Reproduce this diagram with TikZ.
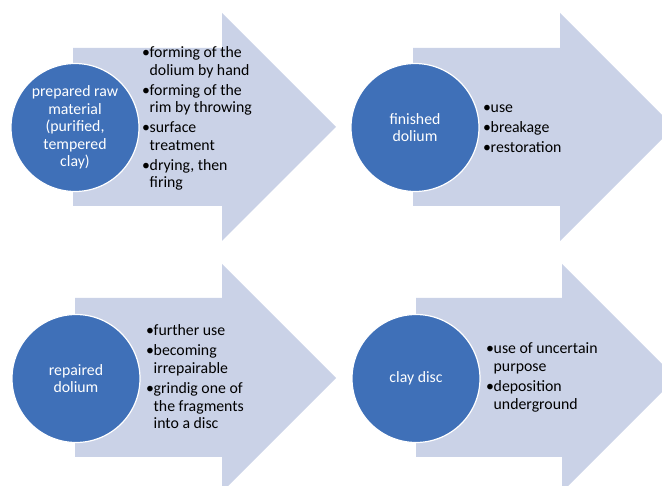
\documentclass[tikz,border=0pt]{standalone}
\usepackage{fontspec}
\setmainfont{Carlito}
\definecolor{arrowfill}{HTML}{CAD2E7}
\definecolor{discfill}{HTML}{3F70B8}
\tikzset{
  bigarrow/.style={fill=arrowfill, draw=none},
  stage/.style={circle, fill=discfill, draw=white, line width=1.2pt, minimum size=128pt,
    inner sep=0pt, text=white, align=center, font=\fontsize{15.8}{17.5}\selectfont},
  steps/.style={anchor=base west, inner sep=0pt, font=\fontsize{15.8}{17.6}\selectfont},
}
\newcommand{\bitem}{\makebox[7.5pt][l]{\textbullet}}

\begin{document}
\begin{tikzpicture}[x=1pt, y=-1pt]
                \useasboundingbox (0,0) rectangle (662,486);
                \clip (0,0) rectangle (662,486);

                % arrows
                \fill[bigarrow] (73,48) -- (222,48) -- (222,13) -- (336,127) -- (222,241) -- (222,206) -- (73,206) -- cycle;
                \fill[bigarrow] (413,48) -- (560,48) -- (560,13) -- (674,127) -- (560,241) -- (560,206) -- (413,206) -- cycle;
                \fill[bigarrow] (75,298) -- (222,298) -- (222,264) -- (336,378) -- (222,492) -- (222,457) -- (75,457) -- cycle;
                \fill[bigarrow] (416,298) -- (562,298) -- (562,264) -- (676,378) -- (562,492) -- (562,457) -- (416,457) -- cycle;

                % stages
                \node[stage] (raw) at (75,127.5) {prepared raw\\material\\(purified,\\tempered\\clay)};
                \node[stage] (finished) at (415,127.5) {finished\\dolium};
                \node[stage] (repaired) at (76,378.5) {repaired\\dolium};
                \node[stage] (disc) at (416,378.5) {clay disc};

                % steps
                \node[steps] (steps1) at (142,57.5) {\begin{tabular}[t]{@{}l@{}l@{}}
                    \bitem & forming of the\\ & dolium by hand\\[2.4pt]
                    \bitem & forming of the\\ & rim by throwing\\[2.4pt]
                    \bitem & surface\\ & treatment\\[2.4pt]
                    \bitem & drying, then\\ & firing
                  \end{tabular}};
                \node[steps] (steps2) at (483,112.5) {\begin{tabular}[t]{@{}l@{}l@{}}
                    \bitem & use\\[2.4pt]
                    \bitem & breakage\\[2.4pt]
                    \bitem & restoration
                  \end{tabular}};
                \node[steps] (steps3) at (146,336) {\begin{tabular}[t]{@{}l@{}l@{}}
                    \bitem & further use\\[2.4pt]
                    \bitem & becoming\\ & irrepairable\\[2.4pt]
                    \bitem & grindig one of\\ & the fragments\\ & into a disc
                  \end{tabular}};
                \node[steps] (steps4) at (486,354) {\begin{tabular}[t]{@{}l@{}l@{}}
                    \bitem & use of uncertain\\ & purpose\\[2.4pt]
                    \bitem & deposition\\ & underground
                  \end{tabular}};
            \end{tikzpicture}
\end{document}
